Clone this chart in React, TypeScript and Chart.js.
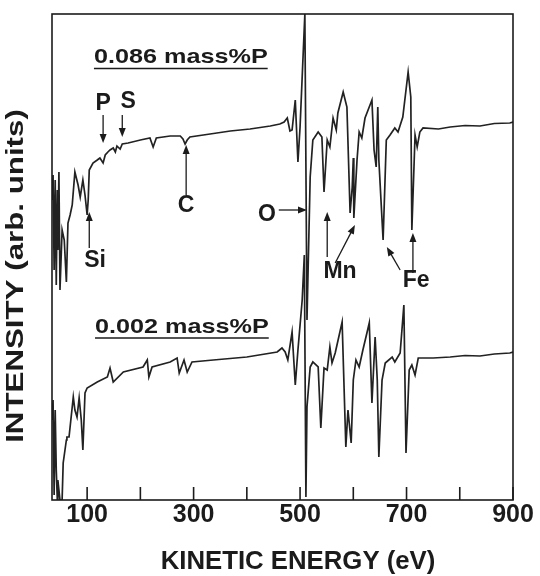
import React, { useEffect, useRef } from "react";
import { Chart, registerables } from "chart.js";

Chart.register(...registerables);

// ---- Data (intensity in arbitrary units) ----
const upperEnergy = [
  34, 36, 38, 40, 42, 44, 45, 47, 49, 53, 57, 61, 64, 68, 72, 77, 83, 87, 92, 96,
  100, 102, 104, 111, 119, 124, 130, 134, 139, 143, 149, 153, 156, 162, 166, 177, 200, 218, 224, 230,
  256, 275, 280, 284, 288, 293, 331, 369, 406, 444, 462, 470, 476, 481, 485, 491, 496, 500, 509, 513,
  519, 524, 534, 541, 545, 551, 556, 562, 568, 571, 581, 588, 594, 598, 600, 601, 607, 611, 616, 622,
  635, 639, 643, 646, 648, 656, 662, 669, 678, 684, 693, 703, 708, 710, 716, 720, 725, 731, 760, 782,
  810, 838, 865, 894, 900,
];
const upperIntensity = [
  60, 65, 46, 64, 43, 62, 50, 65.6, 42, 54, 52, 43.6, 55.4, 57, 59, 65.6, 63, 60.6, 64, 61,
  57, 60, 66, 67.4, 68, 68.4, 67.4, 69, 69.6, 70, 70.4, 69.6, 70.8, 70.2, 71.2, 71.4, 72, 72.4, 70.6, 72.4,
  72.8, 72.8, 72.2, 71.2, 72, 72.6, 73.2, 73.8, 74.2, 74.8, 75.2, 75.6, 76.4, 73.8, 74, 80, 67.6, 74.6, 97.2, 36,
  64.6, 72, 73.6, 72.6, 61.6, 72, 70.6, 76.4, 74, 77.4, 81.6, 78.6, 57.4, 62.6, 68.4, 56.4, 68, 73.6, 72.4, 76.4,
  80, 70, 66.6, 78.6, 68, 52, 72, 73, 74.4, 73.6, 76.6, 85.6, 80.6, 54, 73, 70.6, 73.6, 74.4, 74.2, 74.6,
  74.9, 74.8, 75.3, 75.4, 75.6,
];

const lowerEnergy = [
  34, 36, 38, 40, 42, 44, 45, 49, 53, 55, 61, 62, 66, 74, 77, 81, 85, 89, 92, 96,
  100, 119, 138, 143, 149, 168, 205, 213, 216, 222, 256, 269, 273, 282, 288, 297, 337, 400, 457, 466,
  472, 477, 485, 491, 496, 504, 508, 511, 513, 519, 524, 534, 539, 545, 551, 556, 560, 566, 579, 586,
  590, 596, 600, 605, 611, 618, 630, 635, 641, 645, 648, 654, 660, 673, 678, 688, 695, 699, 705, 710,
  716, 722, 750, 782, 810, 838, 865, 894, 900,
];
const lowerIntensity = [
  16, 20, 1, 18, 6, 0, 4, 0, 0, 7.4, 12, 12.6, 12.6, 20.6, 18, 16.6, 20.4, 16, 10, 21.4,
  22.4, 23.6, 24.6, 26.4, 23.6, 25.6, 26.6, 28, 24.6, 26.6, 27.6, 28.4, 25.4, 28, 25.6, 27.6, 28, 28.6, 29.6, 30.4,
  29.6, 28, 33.6, 23, 30, 40, 49, 0.6, 18.6, 26.6, 27.6, 26.6, 14.4, 26.4, 26, 30.6, 27.4, 29.4, 35.6, 10.6,
  18, 11.4, 24, 28, 26.6, 30, 35.4, 19.4, 32.6, 24, 8.6, 24, 27.4, 28.6, 27.6, 29.4, 39, 9.4, 26, 27,
  25, 28.4, 28.4, 28.6, 28.9, 28.8, 29.2, 29.4, 29.6,
];

const tickValues = [100, 200, 300, 400, 500, 600, 700, 800, 900];
const tickLabels = ["100", "", "300", "", "500", "", "700", "", "900"];
const xTitle = "KINETIC ENERGY (eV)";
const yTitle = "INTENSITY (arb. units)";
const seriesNames = ["0.086 mass%P", "0.002 mass%P"];
const seriesNameEnergy = [276, 278];
const seriesNameIntensity = [88.5, 34.6];

// Element labels: text, anchor energy / intensity, arrows [fromE, fromI, toE, toI]
const noteTexts = ["P", "S", "C", "Si", "O", "Mn", "Fe"];
const noteEnergy = [130, 177, 286, 115, 438, 575, 718];
const noteIntensity = [79.2, 79.6, 58.8, 47.8, 57, 45.6, 43.8];
const noteArrows: number[][][] = [
  [[130, 77, 130, 71.4]],
  [[166, 77, 166, 72.6]],
  [[286, 61, 286, 71]],
  [[104, 50.4, 104, 57.6]],
  [[460, 58, 513, 58]],
  [[551, 48.6, 551, 57.6], [566, 47.4, 603, 55]],
  [[688, 46, 663, 50.6], [712, 45.4, 712, 53.4]],
];

const FONT = '"Liberation Sans", Arial, Helvetica, sans-serif';
const INK = "#1b1b1b";

function drawStretched(ctx: CanvasRenderingContext2D, text: string, x: number, y: number, font: string, sx: number, rot = 0) {
  ctx.save();
  ctx.translate(x, y);
  if (rot) ctx.rotate(rot);
  ctx.scale(sx, 1);
  ctx.font = font;
  ctx.textAlign = "center";
  ctx.textBaseline = "middle";
  ctx.fillText(text, 0, 0);
  const w = ctx.measureText(text).width;
  ctx.restore();
  return w * sx;
}

function drawArrow(ctx: CanvasRenderingContext2D, x1: number, y1: number, x2: number, y2: number) {
  const ang = Math.atan2(y2 - y1, x2 - x1);
  const L = 9;
  const W = 3.5;
  ctx.beginPath();
  ctx.moveTo(x1, y1);
  ctx.lineTo(x2 - Math.cos(ang) * (L - 1), y2 - Math.sin(ang) * (L - 1));
  ctx.stroke();
  ctx.beginPath();
  ctx.moveTo(x2, y2);
  ctx.lineTo(x2 - Math.cos(ang) * L - Math.sin(ang) * W, y2 - Math.sin(ang) * L + Math.cos(ang) * W);
  ctx.lineTo(x2 - Math.cos(ang) * L + Math.sin(ang) * W, y2 - Math.sin(ang) * L - Math.cos(ang) * W);
  ctx.closePath();
  ctx.fill();
}

const decorPlugin = {
  id: "decor",
  afterDatasetsDraw(chart: any) {
    const ctx: CanvasRenderingContext2D = chart.ctx;
    const { left, right, top, bottom } = chart.chartArea;
    const xs = chart.scales.x;
    const ys = chart.scales.y;
    ctx.save();
    ctx.strokeStyle = INK;
    ctx.fillStyle = INK;
    // frame
    ctx.lineWidth = 1.6;
    ctx.strokeRect(left, top, right - left, bottom - top);
    // inner tick marks
    ctx.lineWidth = 1.6;
    tickValues.forEach((v) => {
      const px = xs.getPixelForValue(v);
      ctx.beginPath();
      ctx.moveTo(px, bottom);
      ctx.lineTo(px, bottom - 13);
      ctx.stroke();
    });
    // series names, underlined
    seriesNames.forEach((name, i) => {
      const cx = xs.getPixelForValue(seriesNameEnergy[i]);
      const cy = ys.getPixelForValue(seriesNameIntensity[i]);
      const w = drawStretched(ctx, name, cx, cy, `bold 21px ${FONT}`, 1.2);
      ctx.lineWidth = 1.4;
      ctx.beginPath();
      ctx.moveTo(cx - w / 2, cy + 11);
      ctx.lineTo(cx + w / 2, cy + 11);
      ctx.stroke();
    });
    // element notes with arrows
    ctx.lineWidth = 1.3;
    noteTexts.forEach((t, i) => {
      drawStretched(ctx, t, xs.getPixelForValue(noteEnergy[i]), ys.getPixelForValue(noteIntensity[i]), `bold 23px ${FONT}`, 1.0);
      noteArrows[i].forEach((a) => {
        drawArrow(ctx, xs.getPixelForValue(a[0]), ys.getPixelForValue(a[1]), xs.getPixelForValue(a[2]), ys.getPixelForValue(a[3]));
      });
    });
    // axis titles
    drawStretched(ctx, xTitle, 298, 562, `bold 25px ${FONT}`, 1.03);
    drawStretched(ctx, yTitle, 17, 276, `bold 23px ${FONT}`, 1.36, -Math.PI / 2);
    ctx.restore();
  },
};

export default function App() {
  const ref = useRef<HTMLCanvasElement | null>(null);
  useEffect(() => {
    if (!ref.current) return;
    const chart = new Chart(ref.current, {
      type: "line",
      data: {
        datasets: [
          {
            label: seriesNames[0],
            data: upperEnergy.map((e, i) => ({ x: e, y: upperIntensity[i] })),
            borderColor: "#222",
            borderWidth: 1.7,
            pointRadius: 0,
            tension: 0,
            fill: false,
          },
          {
            label: seriesNames[1],
            data: lowerEnergy.map((e, i) => ({ x: e, y: lowerIntensity[i] })),
            borderColor: "#222",
            borderWidth: 1.7,
            pointRadius: 0,
            tension: 0,
            fill: false,
          },
        ],
      },
      options: {
        responsive: false,
        animation: false,
        layout: { padding: { left: 52, top: 14, right: 27, bottom: 46 } },
        plugins: { legend: { display: false }, tooltip: { enabled: false } },
        scales: {
          x: {
            type: "linear",
            min: 34,
            max: 900,
            afterBuildTicks: (s: any) => {
              s.ticks = tickValues.map((v) => ({ value: v }));
            },
            ticks: {
              autoSkip: false,
              maxRotation: 0,
              padding: 0,
              color: INK,
              font: { family: FONT, size: 25, weight: "bold" },
              callback: (v: any) => tickLabels[tickValues.indexOf(Number(v))] ?? "",
            },
            grid: { display: false, drawTicks: false },
            border: { display: false },
          },
          y: {
            type: "linear",
            min: 0,
            max: 97.2,
            display: false,
          },
        },
      },
      plugins: [decorPlugin],
    } as any);
    return () => chart.destroy();
  }, []);
  return (
    <div style={{ position: "fixed", left: 0, top: 0, width: 540, height: 576, background: "#fff" }}>
      <canvas ref={ref} width={540} height={576} style={{ width: 540, height: 576 }} />
    </div>
  );
}
